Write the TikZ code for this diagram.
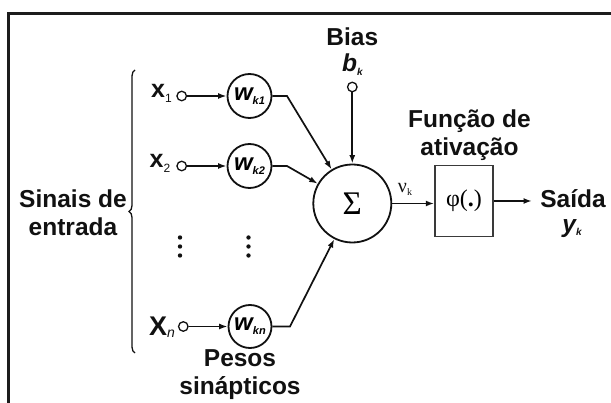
\documentclass[tikz,border=0pt]{standalone}
\usepackage{fontspec}
\setmainfont{Liberation Sans}
\newfontfamily\greekserif{Liberation Serif}
\usepackage{tikz}
\usetikzlibrary{arrows.meta, positioning, decorations.pathreplacing}
\definecolor{ink}{HTML}{111111}
\definecolor{framegray}{HTML}{1C1C1C}
\definecolor{boxgray}{HTML}{3A3A3A}

% lowered small subscript: shift, size, text
\newcommand{\lowsub}[3]{\raisebox{#1}{\fontsize{#2}{#2}\selectfont #3}}

\tikzset{
  neuron/.style={circle, draw=ink, line width=1.8pt, inner sep=0pt},
  terminal/.style={circle, draw=ink, line width=1.3pt, minimum size=9.5pt, inner sep=0pt, fill=white},
  lbl/.style={font=\fontsize{24.5}{28}\selectfont\bfseries, align=center, inner sep=0pt, text=ink},
  inlbl/.style={anchor=base west, inner sep=0pt, text=ink},
  wire/.style={draw=ink, line width=1.7pt, -{Latex[length=8.5pt,width=6pt]}},
}

\begin{document}
\begin{tikzpicture}[x=1pt, y=-1pt]
\useasboundingbox (0,0) rectangle (611,403);
% frame (only top and left edges visible)
\draw[framegray, line width=2.4pt] (8.5,403) -- (8.5,13.5) -- (611,13.5);

% inputs
\node[terminal] (x1) at (181.7,96) {};
\node[terminal] (x2) at (181.7,166) {};
\node[terminal] (xn) at (183.3,326.5) {};
\node[inlbl, font=\fontsize{25}{26}\selectfont\bfseries] (x1lbl) at (151,98) {x\lowsub{-5pt}{12}{\mdseries 1}};
\node[inlbl, font=\fontsize{25}{26}\selectfont\bfseries] (x2lbl) at (149.5,168) {x\lowsub{-5pt}{12}{\mdseries 2}};
\node[inlbl, font=\fontsize{27}{28}\selectfont\bfseries] (xnlbl) at (149,335.5) {X\lowsub{-2pt}{14}{\mdseries\itshape n}};

% synaptic weights
\node[neuron, minimum size=44pt] (wk1) at (249.5,96) {\fontsize{24}{25}\selectfont\bfseries\itshape w\lowsub{-4pt}{11}{k1}};
\node[neuron, minimum size=44pt] (wk2) at (249.5,166) {\fontsize{24}{25}\selectfont\bfseries\itshape w\lowsub{-4pt}{11}{k2}};
\node[neuron, minimum size=43pt] (wkn) at (250,326.5) {\fontsize{24}{25}\selectfont\bfseries\itshape w\lowsub{-4pt}{11}{kn}};

% dots
\foreach \dx in {180,248.5}
  \foreach \dy in {237.5,246.5,255.5}
    \fill[ink] (\dx,\dy) circle (2.2);

% summing junction and bias
\node[neuron, minimum size=78pt] (sigma) at (352.3,203.5) {\greekserif\fontsize{33}{34}\selectfont Σ};
\node[terminal] (bias) at (352.3,87) {};
\node[lbl] (biastxt) at (352.3,36.5) {Bias};
\node[lbl] (bk) at (352.3,65) {\itshape b\lowsub{-4pt}{10}{k}};

% activation function
\node[draw=boxgray, line width=1.5pt, minimum width=58pt, minimum height=71pt, inner sep=0pt] (phi) at (464,201) {\greekserif\fontsize{24}{25}\selectfont φ(\textbf{.})};
\node[lbl] (functxt) at (469.5,135) {Função de\\ativação};
\node[inner sep=0pt, text=ink] (nu) at (405,189) {\greekserif\fontsize{20}{21}\selectfont ν\lowsub{-3pt}{10}{k}};
\coordinate (saida) at (532,201);
\node[lbl] (saidatxt) at (573,199) {Saída};
\node[lbl] (yk) at (572,229) {\itshape y\lowsub{-3pt}{10}{k}};

% input signals
\node[lbl] (sinais) at (73,213) {Sinais de\\entrada};
\coordinate (brtop) at (135,70);
\coordinate (brbot) at (135,353);
\draw[ink, line width=1.3pt, decorate, decoration={brace, amplitude=6pt}] (brbot) -- (brtop);
\node[lbl] (pesos) at (240,375) {Pesos\\sinápticos};

% connections
\coordinate (k1bend) at (287,96);
\coordinate (k2bend) at (287,166);
\coordinate (knbend) at (290,326.5);
\draw[wire] (x1) -- (wk1);
\draw[wire] (x2) -- (wk2);
\draw[wire] (xn) -- (wkn);
\draw[wire] (wk1) -- (k1bend) -- (sigma);
\draw[wire] (wk2) -- (k2bend) -- (sigma);
\draw[wire] (wkn) -- (knbend) -- (sigma);
\draw[wire] (bias) -- (sigma);
\draw[wire] (sigma.east) -- (phi.west |- sigma.east);
\draw[wire] (phi.east) -- (saida);
\end{tikzpicture}
\end{document}
